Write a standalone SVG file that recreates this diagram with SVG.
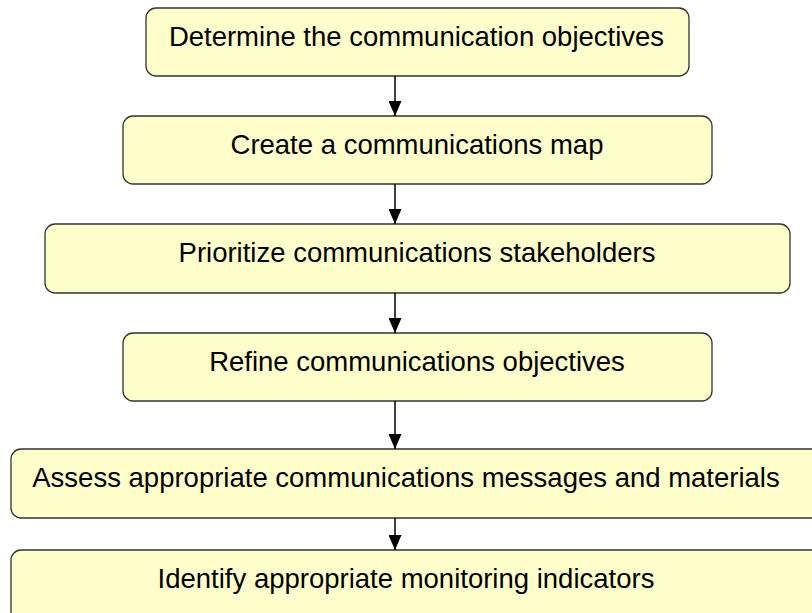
<svg xmlns="http://www.w3.org/2000/svg" width="812" height="613" viewBox="0 0 812 613">
<style>
.box{fill:#FFFFCC;stroke:#333333;stroke-width:1.3}
.lbl{font-family:"Liberation Sans",Arial,sans-serif;font-size:27.5px;fill:#000;text-anchor:middle}
.conn{stroke:#000;stroke-width:1.5;fill:none}
</style>
<defs>
<marker id="ah" markerWidth="13" markerHeight="15" refX="6.5" refY="15" orient="auto" markerUnits="userSpaceOnUse" viewBox="0 0 13 15">
<path d="M0,0 L13,0 L6.5,15 Z" fill="#000" transform="rotate(-90 6.5 7.5)"/>
</marker>
<marker id="arr" markerWidth="15" markerHeight="13" refX="15" refY="6.5" orient="auto" markerUnits="userSpaceOnUse" viewBox="0 0 15 13">
<path d="M0,0 L15,6.5 L0,13 Z" fill="#000"/>
</marker>
</defs>
<g id="n1"><rect class="box" x="146" y="8" width="543" height="68" rx="10"/><text class="lbl" x="416.5" y="45.5">Determine the communication objectives</text></g>
<g id="n2"><rect class="box" x="123" y="116" width="589" height="68" rx="10"/><text class="lbl" x="417" y="153.5">Create a communications map</text></g>
<g id="n3"><rect class="box" x="45" y="224" width="745" height="69" rx="10"/><text class="lbl" x="417" y="261.5">Prioritize communications stakeholders</text></g>
<g id="n4"><rect class="box" x="123" y="333" width="589" height="68" rx="10"/><text class="lbl" x="417" y="370.5">Refine communications objectives</text></g>
<g id="n5"><rect class="box" x="11" y="449" width="830" height="69" rx="10"/><text class="lbl" x="406" y="487">Assess appropriate communications messages and materials</text></g>
<g id="n6"><rect class="box" x="11" y="550" width="830" height="80" rx="10"/><text class="lbl" x="406" y="588">Identify appropriate monitoring indicators</text></g>
<g id="connectors">
<line class="conn" x1="395" y1="76" x2="395" y2="116" marker-end="url(#arr)"/>
<line class="conn" x1="395" y1="184" x2="395" y2="224" marker-end="url(#arr)"/>
<line class="conn" x1="395" y1="293" x2="395" y2="333" marker-end="url(#arr)"/>
<line class="conn" x1="395" y1="401" x2="395" y2="449" marker-end="url(#arr)"/>
<line class="conn" x1="395" y1="518" x2="395" y2="550" marker-end="url(#arr)"/>
</g>
</svg>
